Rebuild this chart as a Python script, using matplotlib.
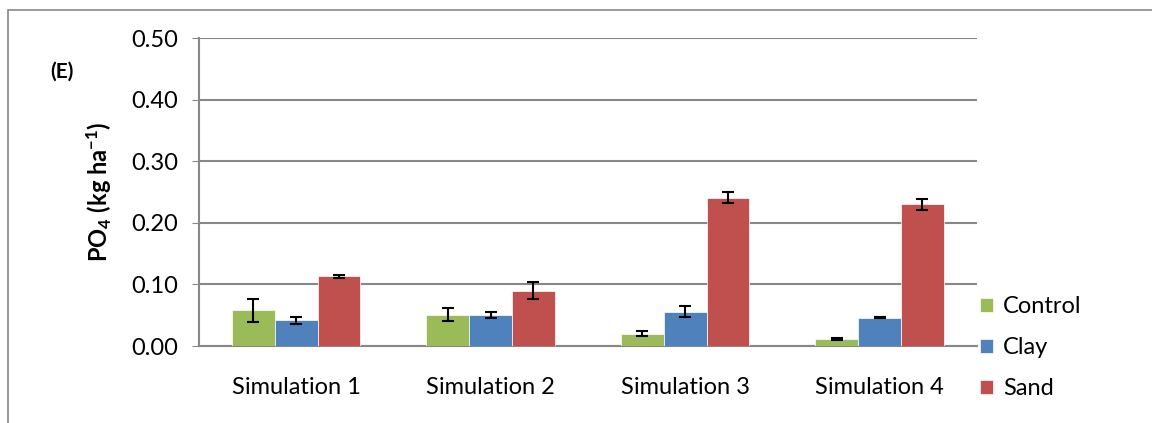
import matplotlib.pyplot as plt
import numpy as np
from matplotlib.patches import Rectangle

plt.rcParams['font.family'] = ['Lato', 'DejaVu Sans']
plt.rcParams['mathtext.fontset'] = 'custom'
plt.rcParams['mathtext.rm'] = 'Lato'
plt.rcParams['mathtext.bf'] = 'Lato:bold'
plt.rcParams['mathtext.default'] = 'bf'

categories = ['Simulation 1', 'Simulation 2', 'Simulation 3', 'Simulation 4']
series = ['Control', 'Clay', 'Sand']
control = [0.058, 0.051, 0.020, 0.011]
clay = [0.042, 0.051, 0.056, 0.046]
sand = [0.113, 0.090, 0.241, 0.230]
control_err = [0.019, 0.010, 0.004, 0.0015]
clay_err = [0.0057, 0.005, 0.0087, 0.001]
sand_err = [0.003, 0.0138, 0.0087, 0.009]
colors = ['#9BBB59', '#4F81BD', '#C0504D']

fig = plt.figure(figsize=(11.52, 4.23), dpi=100)
ax = fig.add_axes([0.1727, 0.182, 0.848 - 0.1727, 0.728])

x = np.arange(len(categories))
w = 0.22
for i, (vals, errs) in enumerate(zip([control, clay, sand], [control_err, clay_err, sand_err])):
    ax.bar(x + (i - 1) * w, vals, w, color=colors[i], label=series[i], zorder=3,
           edgecolor='white', linewidth=0.5)
    ax.errorbar(x + (i - 1) * w, vals, yerr=errs, fmt='none', ecolor='black',
                elinewidth=1.5, capsize=4, capthick=1.5, zorder=4)

ax.set_xlim(-0.5, 3.5)
ax.set_ylim(0, 0.5)
ax.set_yticks(np.arange(0, 0.51, 0.1))
ax.set_yticklabels([f'{v:.2f}' for v in np.arange(0, 0.51, 0.1)], fontsize=17)
ax.set_xticks(x)
ax.set_xticklabels(categories, fontsize=17)
ax.tick_params(axis='x', length=0, pad=22)
ax.tick_params(axis='y', length=5, color='#878787', pad=10)
ax.yaxis.grid(True, color='#878787', linewidth=1.5, zorder=0)
for s in ['top', 'right']:
    ax.spines[s].set_visible(False)
for s in ['left', 'bottom']:
    ax.spines[s].set_color('#878787')
    ax.spines[s].set_linewidth(1.5)

ax.set_ylabel('PO$_4$ (kg ha$^{-1}$)', fontsize=17, fontweight='bold', labelpad=12)
fig.text(0.054, 0.83, '(E)', fontsize=15, fontweight='bold', ha='center', va='center')

ax.legend(loc='center left', bbox_to_anchor=(0.851, 0.178), bbox_transform=fig.transFigure,
          frameon=False, fontsize=17, handlelength=0.55, handleheight=0.55,
          labelspacing=0.85, handletextpad=0.4, borderpad=0, borderaxespad=0)

fig.patches.append(Rectangle((0.007, -0.1), 1.1, 1.076, transform=fig.transFigure,
                             fill=False, edgecolor='#878787', linewidth=1.2))

fig.savefig('out.png', dpi=100)
